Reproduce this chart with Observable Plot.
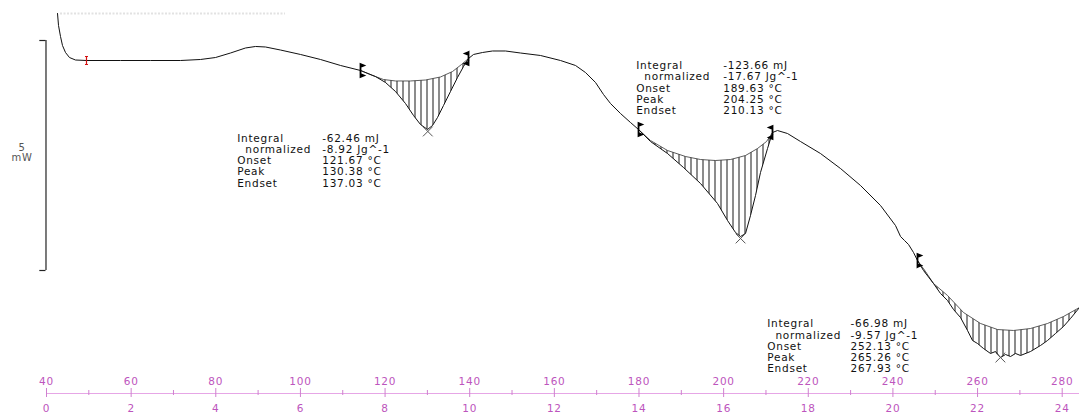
<!DOCTYPE html>
<html><head><meta charset="utf-8">
<script src="https://cdn.jsdelivr.net/npm/d3@7"></script>
<script src="https://cdn.jsdelivr.net/npm/@observablehq/plot@0.6"></script>
<style>
html,body{margin:0;padding:0;background:#fff;}
#chart svg text{letter-spacing:0.75px;}
</style></head><body><div id="chart"></div>
<script>
// ---- DSC curve: temperature (°C) and heat flow (mW, arbitrary offset) ----
const tempC = [42.60,42.84,43.31,43.78,44.49,45.43,46.85,49.45,57.49,64.57,71.66,76.39,79.93,83.48,87.02,89.39,91.75,95.29,100.02,104.74,109.47,114.20,117.74,120.10,122.47,124.83,126.72,128.37,130.03,131.21,132.39,133.81,135.46,137.12,138.54,139.72,140.90,143.02,145.39,148.46,152.00,156.73,161.46,165.00,167.36,169.73,171.62,173.27,175.63,178.00,179.89,182.72,186.74,190.52,194.54,198.55,200.92,202.81,203.99,205.17,206.35,207.53,208.71,210.37,211.55,212.73,215.09,218.17,222.89,227.62,232.34,237.07,240.61,241.80,242.74,243.69,244.87,245.81,247.23,249.59,251.25,252.90,254.32,255.97,257.63,258.81,259.99,261.41,263.06,264.24,265.43,266.61,267.79,268.97,270.15,272.51,274.88,276.53,278.42,280.31,281.97,284.09];
const heatFlow = [0.587,0.326,0.087,-0.109,-0.261,-0.370,-0.424,-0.435,-0.435,-0.435,-0.435,-0.413,-0.370,-0.272,-0.163,-0.130,-0.141,-0.207,-0.304,-0.413,-0.543,-0.652,-0.783,-0.913,-1.109,-1.370,-1.630,-1.826,-1.935,-1.848,-1.674,-1.413,-1.109,-0.804,-0.565,-0.391,-0.304,-0.261,-0.228,-0.228,-0.272,-0.326,-0.435,-0.543,-0.696,-0.913,-1.174,-1.370,-1.587,-1.783,-1.935,-2.196,-2.457,-2.761,-3.109,-3.543,-3.913,-4.174,-4.261,-4.196,-3.804,-3.370,-2.870,-2.348,-2.000,-1.957,-2.022,-2.196,-2.457,-2.783,-3.152,-3.587,-4.022,-4.261,-4.348,-4.435,-4.609,-4.783,-5.000,-5.283,-5.500,-5.652,-5.848,-6.022,-6.304,-6.522,-6.587,-6.696,-6.804,-6.761,-6.891,-6.826,-6.870,-6.804,-6.848,-6.761,-6.630,-6.522,-6.370,-6.217,-6.043,-5.804];

// ---- integration baselines ----
const base1T = [114.20,117.03,119.63,122.47,126.01,129.56,133.10,135.94,138.06,139.72];
const base1W = [-0.652,-0.761,-0.848,-0.880,-0.880,-0.859,-0.793,-0.674,-0.522,-0.391];
const base2T = [179.89,182.72,186.74,190.99,194.54,198.08,201.63,205.17,208.01,210.13,211.55];
const base2W = [-1.935,-2.174,-2.391,-2.522,-2.587,-2.609,-2.587,-2.500,-2.348,-2.196,-2.000];
const base3T = [245.81,247.70,249.59,252.90,256.68,260.70,264.72,268.50,272.51,276.53,280.31,284.09];
const base3W = [-4.783,-5.022,-5.283,-5.543,-5.913,-6.152,-6.283,-6.304,-6.261,-6.152,-6.000,-5.804];

// ---- markers ----
const onsetMarkT = [114.20,179.89,245.81];
const endsetMarkT = [139.72,211.55];
const peakMarkT = [130.1,204.0,265.4];
const peakMarkW = [-1.978,-4.304,-6.891];
const startMarkT = [49.45];

// ---- evaluation results ----
const integralMJ = [-62.46,-123.66,-66.98];
const normalizedJg = [-8.92,-17.67,-9.57];
const onsetC = [121.67,189.63,252.13];
const peakC = [130.38,204.25,265.26];
const endsetC = [137.03,210.13,267.93];
const rowLabels = ["Integral","\u00a0\u00a0normalized","Onset","Peak","Endset"];

// ---- axis ----
const tempTicks = [40,60,80,100,120,140,160,180,200,220,240,260,280];
const minorTicks = [50,70,90,110,130,150,170,190,210,230,250,270];
const timeTicks = [0,2,4,6,8,10,12,14,16,18,20,22,24];
const scaleBarMW = [0,-5];
const scaleLabel = ["5","mW"];

// ---- layout (positions, not data) ----
const PX = 46;                 // pixels per mW
const AXIS_W = (40-393)/PX;    // axis line position in mW units
const blockPos = [
  {lx:85.06, vx:105.15, y:-2.609},
  {lx:179.34, vx:199.90, y:-1.033},
  {lx:210.30, vx:229.98, y:-6.648}
];
const FONT = "DejaVu Sans";
const FS = 10.5;
const AX_LINE = "#e6a6e6", AX_TICK = "#cf80cf", AX_TEXT = "#bd55bd";

const curve = tempC.map((T,i)=>({T, W: heatFlow[i]}));
const wAt = t => heatFlow[tempC.indexOf(t)];
const bases = [[base1T,base1W],[base2T,base2W],[base3T,base3W]].map(([ts,ws],k)=>ts.map((T,i)=>({id:k,T,W:ws[i]})));
const polys = bases.flatMap((b,k)=>{
  const t0=b[0].T, t1=b[b.length-1].T;
  const seg = curve.filter(d=>d.T>=t0 && d.T<=t1).reverse().map(d=>({id:k,T:d.T,W:d.W}));
  return [...b, ...seg];
});
const fmt = v => v.toFixed(2);
const blocks = blockPos.map((p,i)=>({
  ...p,
  labels: rowLabels.join("\n"),
  values: [fmt(integralMJ[i])+" mJ", fmt(normalizedJg[i])+" Jg^-1", fmt(onsetC[i])+" °C", fmt(peakC[i])+" °C", fmt(endsetC[i])+" °C"].join("\n")
}));

const bracketR = {draw(c){c.moveTo(0,-6.5);c.lineTo(0,6.5);c.moveTo(0,-6.5);c.lineTo(3.5,-5);c.lineTo(0,-3.5);c.closePath();c.moveTo(0,6.5);c.lineTo(3.5,5);c.lineTo(0,3.5);c.closePath();}};
const bracketL = {draw(c){c.moveTo(0,-6.5);c.lineTo(0,6.5);c.moveTo(0,-6.5);c.lineTo(-3.5,-5);c.lineTo(0,-3.5);c.closePath();c.moveTo(0,6.5);c.lineTo(-3.5,5);c.lineTo(0,3.5);c.closePath();}};
const redI = {draw(c){c.moveTo(0,-4);c.lineTo(0,4);c.moveTo(-1.5,-4);c.lineTo(1.5,-4);c.moveTo(-1.5,4);c.lineTo(1.5,4);}};

const plot = Plot.plot({
  width: 1079, height: 417, margin: 0,
  x: {domain:[40,280], range:[46,1061.7], axis:null},
  y: {domain:[(40-417)/PX, 40/PX], range:[417,0], axis:null},
  style: {fontFamily: FONT, background:"#fff"},
  marks: [
    // faint clipped header text remnant
    Plot.ruleY([0.587], {x1:43.31, x2:96.47, stroke:"#e2e2e2", strokeWidth:2, strokeDasharray:"2,1.5"}),
    // scale bar
    Plot.ruleX([39.88], {y1: scaleBarMW[0], y2: scaleBarMW[1], stroke:"#222", strokeWidth:1.2}),
    Plot.ruleY(scaleBarMW, {x1:38.42, x2:39.88, stroke:"#222", strokeWidth:1.2}),
    Plot.text([scaleLabel.join("\n")], {x:34.2, y:-2.435, text:d=>d, textAnchor:"middle", fontSize:10, lineHeight:1.0, fill:"#555"}),
    // hatched areas
    Plot.line(polys, {x:"T", y:"W", z:"id", fill:"url(#hatch)", stroke:"none", curve:"linear"}),
    Plot.line(bases.flat(), {x:"T", y:"W", z:"id", stroke:"#333", strokeWidth:0.8}),
    // curve
    Plot.line(curve, {x:"T", y:"W", stroke:"#111", strokeWidth:1}),
    // markers
    Plot.dot(onsetMarkT, {x:d=>d, y:d=>wAt(d), symbol:bracketR, r:6, fill:"#000", stroke:"#000", strokeWidth:1.8}),
    Plot.dot(endsetMarkT, {x:d=>d, y:d=>wAt(d), symbol:bracketL, r:6, fill:"#000", stroke:"#000", strokeWidth:1.8}),
    Plot.dot(startMarkT, {x:d=>d, y:d=>wAt(d), symbol:redI, r:4, fill:"none", stroke:"#d41111", strokeWidth:1.2}),
    Plot.dot(peakMarkT, {x:d=>d, y:(d,i)=>peakMarkW[i], symbol:"times", r:4.5, stroke:"#555", strokeWidth:1}),
    // result blocks
    Plot.text(blocks, {x:"lx", y:"y", text:"labels", textAnchor:"start", fontSize:FS, lineHeight:1.07, fill:"#111"}),
    Plot.text(blocks, {x:"vx", y:"y", text:"values", textAnchor:"start", fontSize:FS, lineHeight:1.07, fill:"#111"}),
    // bottom axis
    Plot.ruleY([AXIS_W], {x1:40, x2:286, stroke:AX_LINE, strokeWidth:1.2}),
    Plot.ruleX(tempTicks, {x:d=>d, y1:AXIS_W+5/PX, y2:AXIS_W-4/PX, stroke:AX_TICK, strokeWidth:1}),
    Plot.ruleX(minorTicks, {x:d=>d, y1:AXIS_W+3/PX, y2:AXIS_W-2/PX, stroke:AX_TICK, strokeWidth:1}),
    Plot.text(tempTicks, {x:d=>d, y:AXIS_W, dy:-12, text:d=>String(d), fill:AX_TEXT, fontSize:FS}),
    Plot.text(timeTicks.map((t,i)=>({t, T:tempTicks[i]})), {x:"T", y:AXIS_W, dy:15, text:d=>String(d.t), fill:AX_TEXT, fontSize:FS})
  ]
});

const svg = d3.select(plot.tagName.toLowerCase()==="svg" ? plot : plot.querySelector("svg"));
const defs = svg.insert("defs", ":first-child");
const pat = defs.append("pattern").attr("id","hatch").attr("patternUnits","userSpaceOnUse").attr("width",6).attr("height",10);
pat.append("line").attr("x1",0.5).attr("x2",0.5).attr("y1",0).attr("y2",10).attr("stroke","#1a1a1a").attr("stroke-width",1);
document.getElementById("chart").appendChild(plot);
</script></body></html>
